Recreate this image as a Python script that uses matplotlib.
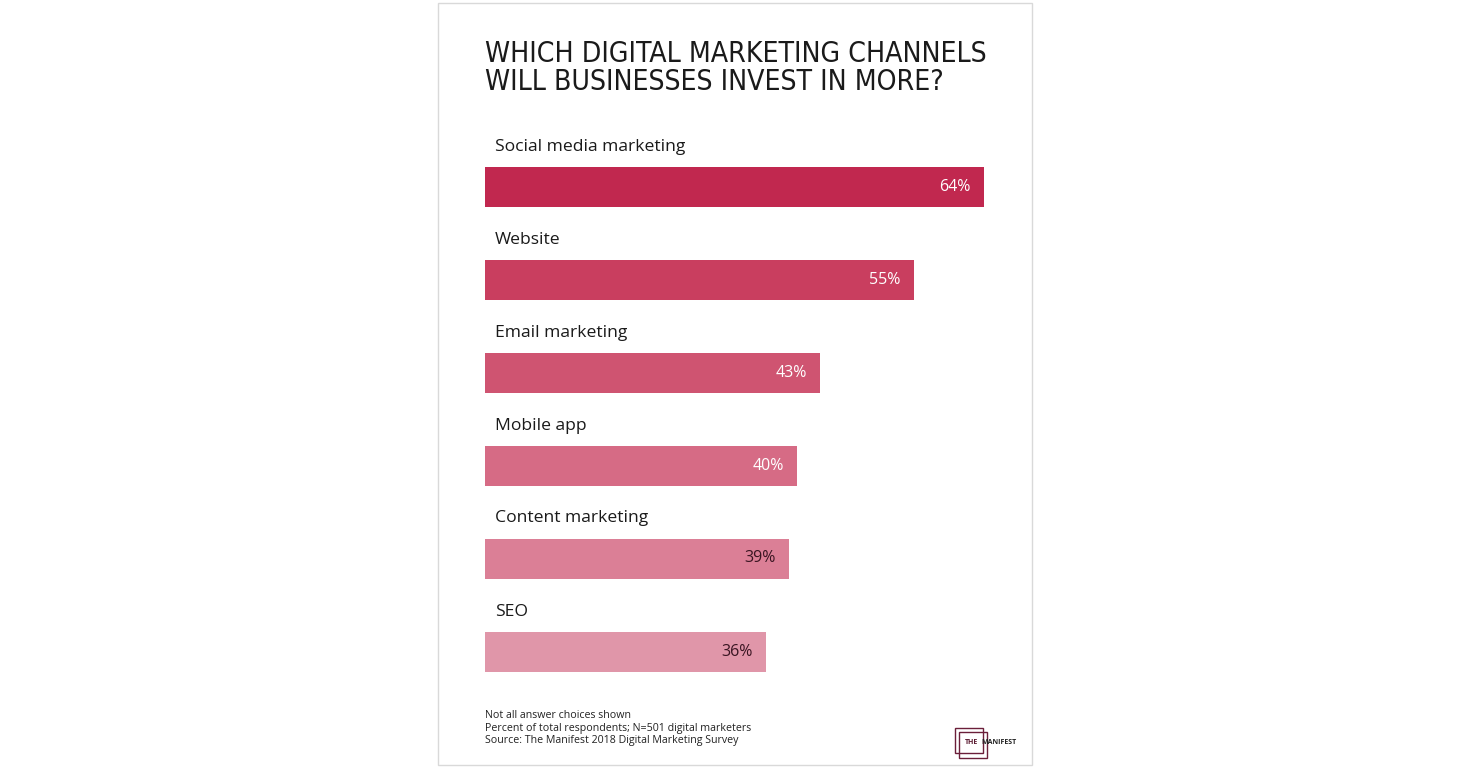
import matplotlib
matplotlib.use("Agg")
import matplotlib.pyplot as plt
from matplotlib.patches import Rectangle

W, H, DPI = 1467, 767, 100

categories = ["Social media marketing", "Website", "Email marketing",
              "Mobile app", "Content marketing", "SEO"]
values = [64, 55, 43, 40, 39, 36]
bar_colors = ["#C1284F", "#C93E5F", "#CF5471", "#D66B85", "#DB7F96", "#E096A9"]
label_colors = ["white", "white", "white", "white", "#3A1522", "#3A1522"]
title_lines = ["WHICH DIGITAL MARKETING CHANNELS", "WILL BUSINESSES INVEST IN MORE?"]
notes = ["Not all answer choices shown",
         "Percent of total respondents; N=501 digital marketers",
         "Source: The Manifest 2018 Digital Marketing Survey"]

fig = plt.figure(figsize=(W / DPI, H / DPI), dpi=DPI)
fig.patch.set_facecolor("white")

# Background / decoration axes in pixel coordinates
bg = fig.add_axes([0, 0, 1, 1])
bg.set_xlim(0, W)
bg.set_ylim(H, 0)
bg.axis("off")
bg.add_patch(Rectangle((437.5, 2.5), 594, 762, fill=False, ec="#D9D9D9", lw=1))

for i, line in enumerate(title_lines):
    bg.text(485, 54 + 28 * i, line, fontsize=20.3, family="DejaVu Sans",
            fontstretch="condensed", color="#1A1A1A", va="center", ha="left")

for i, line in enumerate(notes):
    bg.text(485, 716 + 12 * i, line, fontsize=7.7, family="Open Sans",
            color="#222222", va="center", ha="left")

# Logo
logo_c = "#6B1F3A"
bg.add_patch(Rectangle((954.5, 727.5), 28, 25, fill=False, ec=logo_c, lw=1))
bg.add_patch(Rectangle((958.5, 731.5), 28, 26, fill=False, ec=logo_c, lw=1))
bg.text(965, 743, "THE", fontsize=5, family="Open Sans", weight="bold",
        color="#5A1A30", va="center", ha="left")
bg.text(981, 743, "MANIFEST", fontsize=5, family="Open Sans", weight="bold",
        color="#222222", va="center", ha="left")

# Bar axes
px_per_unit = 499 / 64
x_units = 70
ax_w_px = px_per_unit * x_units
row_px = 93
y_top_units, y_bot_units = -0.75, 5.6
ax_top_px = 186.5 + y_top_units * row_px
ax_h_px = (y_bot_units - y_top_units) * row_px
ax = fig.add_axes([485 / W, 1 - (ax_top_px + ax_h_px) / H, ax_w_px / W, ax_h_px / H])
ax.set_xlim(0, x_units)
ax.set_ylim(y_bot_units, y_top_units)
ax.axis("off")

ypos = list(range(len(categories)))
ax.barh(ypos, values, height=40 / row_px, color=bar_colors, align="center")

for i, (cat, v) in enumerate(zip(categories, values)):
    ax.annotate(cat, xy=(0, i), xytext=(10, 40), textcoords="offset pixels",
                fontsize=12.6, family="Open Sans", color="#1A1A1A",
                va="center", ha="left")
    ax.annotate(f"{v}%", xy=(v, i), xytext=(-13, 0), textcoords="offset pixels",
                fontsize=11.5, family="Open Sans", color=label_colors[i],
                va="center", ha="right")

fig.savefig("out.png", dpi=DPI, facecolor="white")
